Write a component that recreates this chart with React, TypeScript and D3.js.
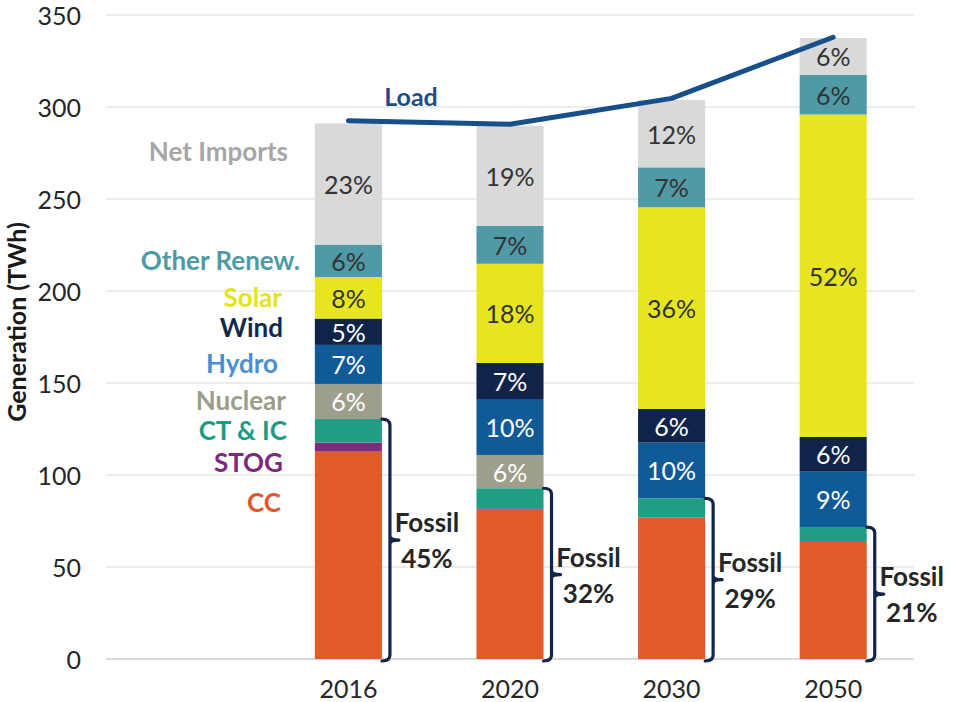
import React from "react";
import * as d3 from "d3";

const years = ["2016", "2020", "2030", "2050"];
const sources = ["CC", "STOG", "CT & IC", "Nuclear", "Hydro", "Wind", "Solar", "Other Renew.", "Net Imports"];

// TWh per year
const ccValues = [112.7, 81.2, 76.8, 63.6];
const stogValues = [4.9, 0.7, 0, 0];
const ctValues = [12.8, 10.9, 10.5, 8.1];
const nuclearValues = [19.1, 18.1, 0, 0];
const hydroValues = [21.2, 30.4, 30.3, 30.1];
const windValues = [14.3, 19.6, 18.3, 18.9];
const solarValues = [22.6, 53.9, 109.6, 175.2];
const otherValues = [17.6, 20.7, 21.7, 21.5];
const importValues = [65.9, 54.3, 36.6, 20.1];
const loadValues = [292.5, 290.6, 304.7, 337.9];

// share labels shown inside the bars ("" = no label)
const nuclearShares = ["6%", "6%", "", ""];
const hydroShares = ["7%", "10%", "10%", "9%"];
const windShares = ["5%", "7%", "6%", "6%"];
const solarShares = ["8%", "18%", "36%", "52%"];
const otherShares = ["6%", "7%", "7%", "6%"];
const importShares = ["23%", "19%", "12%", "6%"];
const fossilShares = ["45%", "32%", "29%", "21%"];

const yTicks = [0, 50, 100, 150, 200, 250, 300, 350];

const barColors = ["#e15a27", "#7e2c7e", "#1f9e84", "#9d9e8b", "#105a98", "#10244a", "#e6e51f", "#4f9aa6", "#d9d9d9"];
const legendColors = ["#e0592b", "#7b2a7d", "#1e9b82", "#9c9d89", "#4a8fd3", "#13294b", "#e4e41e", "#4e9aa6", "#a6a6a6"];
const shareTextColors = ["", "", "", "#fff", "#fff", "#fff", "#333", "#333", "#333"];
// hand placed legend labels: [right x, center y]
const legendSpots = [[281, 502], [283, 462], [287, 430], [286, 400], [278, 363], [283, 327], [282, 297], [300, 260], [288, 151]];

const FONT = "Lato, 'Open Sans', sans-serif";

export default function App() {
  const width = 957;
  const height = 702;

  const x = d3.scaleBand().domain(["", ...years]).range([106, 914]).paddingInner(0.585).paddingOuter(0.2925);
  const y = d3.scaleLinear().domain([0, 350]).range([659, 15]);

  const valueLists = [ccValues, stogValues, ctValues, nuclearValues, hydroValues, windValues, solarValues, otherValues, importValues];
  const shareLists = [[], [], [], nuclearShares, hydroShares, windShares, solarShares, otherShares, importShares];

  const rows = years.map((yr, i) => {
    const row: any = { year: yr };
    sources.forEach((s, k) => (row[s] = valueLists[k][i]));
    return row;
  });
  const stacked = d3.stack().keys(sources)(rows);

  const loadLine = d3.line<number>()
    .x((_, i) => (x(years[i]) as number) + x.bandwidth() / 2)
    .y((d) => y(d));

  const bw = x.bandwidth();

  return (
    <svg width={width} height={height} style={{ position: "fixed", left: 0, top: 0, background: "#fff" }} fontFamily={FONT}>
      {yTicks.map((t) => (
        <g key={t}>
          <line x1={106} x2={914} y1={y(t)} y2={y(t)} stroke={t === 0 ? "#b5b5b5" : "#d9d9d9"} strokeWidth={1.2} />
          <text x={81} y={y(t)} textAnchor="end" dominantBaseline="central" fontSize={25} fill="#262626">{t}</text>
        </g>
      ))}

      <text transform="translate(16,322) rotate(-90)" textAnchor="middle" dominantBaseline="central" fontSize={25} fontWeight="bold" fill="#1a1a1a">
        Generation (TWh)
      </text>

      {stacked.map((layer, k) => (
        <g key={sources[k]}>
          {layer.map((d, i) => {
            const h = y(d[0]) - y(d[1]);
            if (h <= 0) return null;
            return <rect key={i} x={x(years[i])} y={y(d[1])} width={bw} height={h} fill={barColors[k]} />;
          })}
        </g>
      ))}

      {stacked.map((layer, k) =>
        layer.map((d, i) => {
          const label = shareLists[k][i];
          if (!label) return null;
          return (
            <text key={`${k}-${i}`} x={(x(years[i]) as number) + bw / 2} y={(y(d[0]) + y(d[1])) / 2}
              textAnchor="middle" dominantBaseline="central" fontSize={25} fill={shareTextColors[k]}>
              {label}
            </text>
          );
        })
      )}

      {years.map((yr, i) => {
        const x0 = (x(yr) as number) + bw;
        const x1 = x0 + 8;
        const x2 = x0 + 17;
        const top = y(stacked[2][i][1]);
        const bot = y(0) + 2;
        const mid = (top + bot) / 2;
        const r = 6;
        const p = `M${x0},${top} Q${x1},${top} ${x1},${top + r} L${x1},${mid - 4} Q${x1},${mid} ${x2},${mid} M${x1},${mid - 4} L${x1},${mid + 4} Q${x1},${mid} ${x2},${mid} M${x1},${mid + 4} L${x1},${bot - r} Q${x1},${bot} ${x0},${bot}`;
        return (
          <g key={yr}>
            <path d={p} fill="none" stroke="#13244a" strokeWidth={3.2} strokeLinecap="round" />
            <text x={x0 + 45} y={mid - 18} textAnchor="middle" dominantBaseline="central" fontSize={26} fontWeight="bold" fill="#262626">Fossil</text>
            <text x={x0 + 45} y={mid + 18} textAnchor="middle" dominantBaseline="central" fontSize={26} fontWeight="bold" fill="#262626">{fossilShares[i]}</text>
          </g>
        );
      })}

      <path d={loadLine(loadValues) || ""} fill="none" stroke="#174f8a" strokeWidth={5} strokeLinecap="round" strokeLinejoin="round" />
      <text x={411} y={96} textAnchor="middle" dominantBaseline="central" fontSize={25} fontWeight="bold" fill="#1d4f87">Load</text>

      {sources.map((s, k) => (
        <text key={s} x={legendSpots[k][0]} y={legendSpots[k][1]} textAnchor="end" dominantBaseline="central"
          fontSize={26} fontWeight="bold" fill={legendColors[k]}>
          {s}
        </text>
      ))}

      {years.map((yr) => (
        <text key={yr} x={(x(yr) as number) + bw / 2} y={688} textAnchor="middle" dominantBaseline="central" fontSize={25} fill="#262626">
          {yr}
        </text>
      ))}
    </svg>
  );
}
